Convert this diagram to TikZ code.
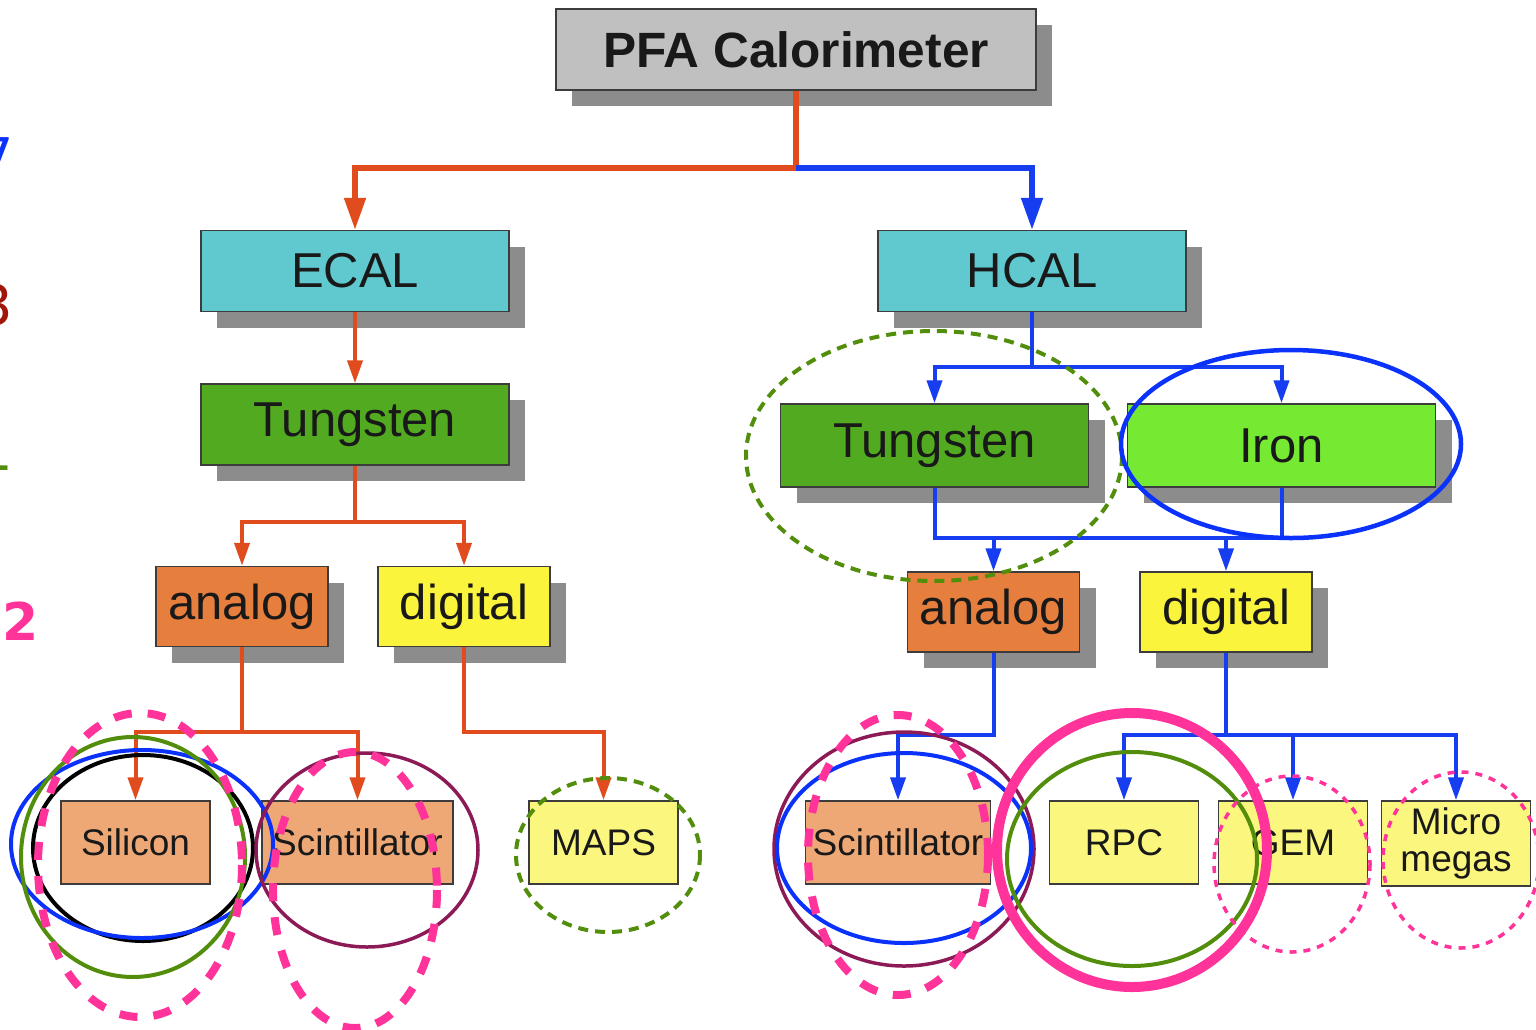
\documentclass[tikz,border=0pt]{standalone}
\usepackage{fontspec}
\setmainfont{Liberation Sans}
\newfontfamily\markfont{DejaVu Sans}
\definecolor{colorBorder}{RGB}{60,60,60}
\definecolor{colorShadow}{RGB}{140,140,140}
\definecolor{colorRoot}{RGB}{192,192,192}
\definecolor{colorDetector}{RGB}{96,201,208}
\definecolor{colorTungsten}{RGB}{82,170,32}
\definecolor{colorIron}{RGB}{118,234,50}
\definecolor{colorAnalog}{RGB}{230,126,62}
\definecolor{colorDigital}{RGB}{250,244,60}
\definecolor{colorAnalogSensor}{RGB}{237,168,118}
\definecolor{colorDigitalSensor}{RGB}{250,246,126}
\definecolor{colorEcalLine}{RGB}{224,76,30}
\definecolor{colorHcalLine}{RGB}{22,62,240}
\definecolor{colorMarkBlue}{RGB}{10,50,250}
\definecolor{colorMarkGreen}{RGB}{82,142,12}
\definecolor{colorMarkPink}{RGB}{255,51,153}
\definecolor{colorMarkPurple}{RGB}{140,26,86}
\definecolor{colorMarkRed}{RGB}{160,22,10}
\usetikzlibrary{arrows.meta, shadows}
\tikzset{
  box/.style={draw=colorBorder, line width=0.75pt, inner sep=0pt, text=black!90},
  shadowed/.style={general shadow={fill=colorShadow, shadow xshift=8pt, shadow yshift=-8pt}},
  bigbox/.style={box, shadowed, minimum width=154pt, minimum height=40.5pt, font=\fontsize{24.5}{28}\selectfont},
  midbox/.style={box, shadowed, minimum width=86pt, minimum height=40pt, font=\fontsize{24.5}{28}\selectfont},
  smallbox/.style={box, minimum width=74.5pt, minimum height=41.5pt, font=\fontsize{18.5}{18.5}\selectfont, align=center},
  wire/.style={line width=2pt, >={Triangle[length=11.5pt, width=7.5pt]}},
  trunk/.style={line width=2.6pt, >={Triangle[length=16pt, width=10.5pt]}},
  ring/.style={line width=2pt},
  ringthick/.style={line width=4pt, dash pattern=on 9pt off 8pt},
  ringdash/.style={line width=2pt, dash pattern=on 5pt off 3.5pt},
  ringdot/.style={line width=1.75pt, dash pattern=on 3.5pt off 3.5pt},
}

\begin{document}
\begin{tikzpicture}[x=0.5pt, y=-0.5pt]
\useasboundingbox (0,0) rectangle (1536,1029);
% tree
\node[box, shadowed, fill=colorRoot, minimum width=240pt, minimum height=40.5pt, font=\fontsize{24.8}{28}\selectfont\bfseries] (pfa) at (796,49.5) {PFA Calorimeter};
\node[bigbox, fill=colorDetector] (ecal) at (355,271) {ECAL};
\node[bigbox, fill=colorDetector] (hcal) at (1032,271) {HCAL};
\node[bigbox, fill=colorTungsten] (tungL) at (355,424.5) {Tungsten};
\node[bigbox, fill=colorTungsten, minimum height=41.5pt] (tungR) at (934.5,445.5) {Tungsten};
\node[bigbox, fill=colorIron, minimum height=41.5pt] (iron) at (1281.5,445.5) {Iron};
\node[midbox, fill=colorAnalog] (anaL) at (242,606.5) {analog};
\node[midbox, fill=colorDigital] (digL) at (464,606.5) {digital};
\node[midbox, fill=colorAnalog] (anaR) at (993.5,612) {analog};
\node[midbox, fill=colorDigital] (digR) at (1226,612) {digital};
\node[smallbox, fill=colorAnalogSensor] (silicon) at (135.5,842.5) {Silicon};
\node[smallbox, fill=colorAnalogSensor, minimum width=95.5pt] (scintL) at (357.5,842.5) {Scintillator};
\node[smallbox, fill=colorDigitalSensor] (maps) at (603.5,842.5) {MAPS};
\node[smallbox, fill=colorAnalogSensor, minimum width=92.5pt] (scintR) at (898,842.5) {Scintillator};
\node[smallbox, fill=colorDigitalSensor] (rpc) at (1124,842.5) {RPC};
\node[smallbox, fill=colorDigitalSensor] (gem) at (1293,842.5) {GEM};
\node[smallbox, fill=colorDigitalSensor, minimum height=42.5pt] (mm) at (1456,843.5) {Micro\\megas};
% junctions
\coordinate (jRoot) at (796,168);
\coordinate (jTungL) at (355,522);
\coordinate (jAnaL) at (242,732);
\coordinate (jDigL) at (464,732);
\coordinate (jHcal) at (1032,367);
\coordinate (jAbsL) at (934.5,538);
\coordinate (jAbsR) at (1281.5,538);
\coordinate (jAnaR) at (993.5,735);
\coordinate (jDigR) at (1226,735);
% ECAL branch
\draw[trunk, colorEcalLine] (pfa) -- (jRoot);
\draw[trunk, ->, colorEcalLine] (jRoot) -| (ecal);
\draw[wire, ->, colorEcalLine] (ecal) -- (tungL);
\draw[wire, colorEcalLine] (tungL) -- (jTungL);
\draw[wire, ->, colorEcalLine] (jTungL) -| (anaL);
\draw[wire, ->, colorEcalLine] (jTungL) -| (digL);
\draw[wire, colorEcalLine] (anaL) -- (jAnaL);
\draw[wire, ->, colorEcalLine] (jAnaL) -| (silicon);
\draw[wire, ->, colorEcalLine] (jAnaL) -| (scintL);
\draw[wire, ->, colorEcalLine] (digL) -- (jDigL) -| (maps);
% HCAL branch
\draw[trunk, ->, colorHcalLine] (jRoot) -| (hcal);
\draw[wire, colorHcalLine] (hcal) -- (jHcal);
\draw[wire, ->, colorHcalLine] (jHcal) -| (tungR);
\draw[wire, ->, colorHcalLine] (jHcal) -| (iron);
\draw[wire, colorHcalLine] (tungR) -- (jAbsL) -- (jAbsR) -- (iron);
\draw[wire, ->, colorHcalLine] (anaR |- jAbsL) -- (anaR);
\draw[wire, ->, colorHcalLine] (digR |- jAbsL) -- (digR);
\draw[wire, ->, colorHcalLine] (anaR) -- (jAnaR) -| (scintR);
\draw[wire, colorHcalLine] (digR) -- (jDigR);
\draw[wire, ->, colorHcalLine] (jDigR) -| (rpc);
\draw[wire, ->, colorHcalLine] (jDigR) -| (gem);
\draw[wire, ->, colorHcalLine] (jDigR) -| (mm);
% marks round the choices
\draw[ring, black] (143,848) ellipse [x radius=110, y radius=93];
\draw[ring, colorMarkBlue] (142,844) ellipse [x radius=131, y radius=94];
\draw[ring, colorMarkGreen] (133,857) ellipse [x radius=112, y radius=120];
\draw[ringthick, colorMarkPink] (140,865) ellipse [x radius=102, y radius=152];
\draw[ring, line width=1.75pt, colorMarkPurple] (367,850) ellipse [x radius=111, y radius=97];
\draw[ringthick, colorMarkPink] (355,890) ellipse [x radius=82, y radius=138];
\draw[ringdash, colorMarkGreen] (608,855) ellipse [x radius=92, y radius=77];
\draw[ringdash, colorMarkGreen] (934,456) ellipse [x radius=188, y radius=125];
\draw[ring, line width=2.25pt, colorMarkBlue] (1291,444) ellipse [x radius=170, y radius=94];
\draw[ring, line width=1.75pt, colorMarkPurple] (904,849) ellipse [x radius=130, y radius=117];
\draw[ring, colorMarkBlue] (904,848) ellipse [x radius=127, y radius=95];
\draw[ringthick, colorMarkPink] (898,855) ellipse [x radius=90, y radius=140];
\draw[ring, line width=5pt, colorMarkPink] (1132,850) ellipse [x radius=135, y radius=137];
\draw[ring, colorMarkGreen] (1132,859) ellipse [x radius=125, y radius=107];
\draw[ringdot, colorMarkPink] (1292,864) ellipse [x radius=78, y radius=88];
\draw[ringdot, colorMarkPink] (1461,860) ellipse [x radius=78, y radius=88];
% cut-off numbers on the left
\node[anchor=east, inner sep=0pt, text=colorMarkBlue, font=\markfont\fontsize{26}{28}\selectfont] (n7) at (14,157) {7};
\node[anchor=east, inner sep=0pt, text=colorMarkRed, font=\markfont\fontsize{28}{30}\selectfont] (n3) at (14,305) {3};
\node[anchor=east, inner sep=0pt, text=colorMarkGreen, font=\markfont\fontsize{28}{30}\selectfont] (n1) at (14,450) {1};
\node[anchor=west, inner sep=0pt, text=colorMarkPink, font=\markfont\fontsize{26}{28}\selectfont\bfseries] (n2) at (2,621) {2};
\end{tikzpicture}
\end{document}
